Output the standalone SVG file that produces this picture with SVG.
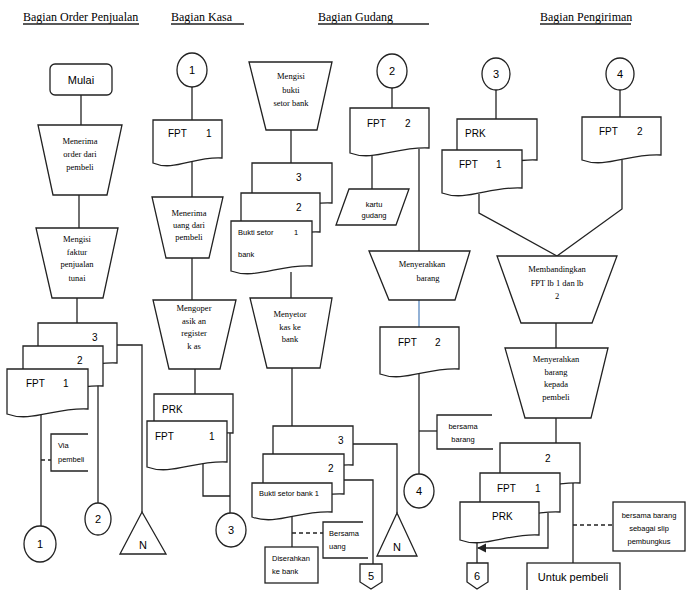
<svg xmlns="http://www.w3.org/2000/svg" width="686" height="590" viewBox="0 0 686 590">
<defs>
<style>
.n{fill:#fff;stroke:#222;stroke-width:1.3}
.c{fill:none;stroke:#222;stroke-width:1.3}
.dash{fill:none;stroke:#222;stroke-width:1.3;stroke-dasharray:4 3}
.h{font-family:"Liberation Serif",serif;font-size:12px;fill:#000}
.t{font-family:"Liberation Serif",serif;font-size:8.5px;fill:#000;text-anchor:middle}
.d{font-family:"Liberation Sans",sans-serif;font-size:10px;fill:#000}
.s{font-family:"Liberation Sans",sans-serif;font-size:7.5px;fill:#000}
.sc{font-family:"Liberation Sans",sans-serif;font-size:7.5px;fill:#000;text-anchor:middle}
.cn{font-family:"Liberation Sans",sans-serif;font-size:11px;fill:#000;text-anchor:middle}
</style>
<marker id="ar" viewBox="0 0 10 10" refX="9" refY="5" markerWidth="7" markerHeight="7" orient="auto"><path d="M0,0 L10,5 L0,10 Z" fill="#222"/></marker>
</defs>
<rect width="686" height="590" fill="#fff"/>

<g id="headers">
<text class="h" x="23" y="21">Bagian Order Penjualan</text>
<line class="c" x1="23" y1="24" x2="139" y2="24" stroke-width="0.9"/>
<text class="h" x="171" y="21">Bagian Kasa</text>
<line class="c" x1="171" y1="24" x2="244" y2="24" stroke-width="0.9"/>
<text class="h" x="318" y="21">Bagian Gudang</text>
<line class="c" x1="318" y1="24" x2="429" y2="24" stroke-width="0.9"/>
<text class="h" x="540" y="21">Bagian Pengiriman</text>
<line class="c" x1="540" y1="24" x2="631" y2="24" stroke-width="0.9"/>
</g>

<g id="connectors">
<!-- col1 -->
<line class="c" x1="81" y1="95" x2="81" y2="125"/>
<line class="c" x1="79" y1="195" x2="79" y2="228"/>
<line class="c" x1="77" y1="298" x2="77" y2="323"/>
<polyline class="c" points="117,345 142,345 142,512"/>
<line class="c" x1="98" y1="385" x2="98" y2="503"/>
<line class="c" x1="41" y1="414" x2="41" y2="526"/>
<line class="dash" x1="41" y1="460" x2="51" y2="460"/>
<polyline class="c" points="88,434 51,434 51,471 88,471"/>
<!-- col2 -->
<line class="c" x1="192" y1="87" x2="192" y2="120"/>
<line class="c" x1="192" y1="162" x2="192" y2="197"/>
<line class="c" x1="192" y1="258" x2="192" y2="300"/>
<line class="c" x1="195" y1="369" x2="195" y2="394"/>
<line class="c" x1="230" y1="433" x2="230" y2="513"/>
<polyline class="c" points="203,462 203,496 230,496"/>
<!-- col3 -->
<line class="c" x1="291" y1="130" x2="291" y2="163"/>
<line class="c" x1="291" y1="272" x2="291" y2="298"/>
<line class="c" x1="292" y1="368" x2="292" y2="426"/>
<polyline class="c" points="353,444 397,444 397,513"/>
<polyline class="c" points="344,480 373,480 373,564"/>
<line class="c" x1="292" y1="515" x2="292" y2="547"/>
<line class="dash" x1="292" y1="533" x2="323" y2="533"/>
<polyline class="c" points="363,522 323,522 323,558 368,558"/>
<!-- col4 -->
<line class="c" x1="392" y1="88" x2="392" y2="108"/>
<line class="c" x1="372" y1="155" x2="372" y2="189"/>
<line class="c" x1="419" y1="149" x2="419" y2="251"/>
<line x1="419" y1="300" x2="419" y2="327" stroke="#4a7ebb" stroke-width="1.2"/>
<line class="c" x1="419" y1="372" x2="419" y2="474"/>
<line class="c" x1="419" y1="431" x2="437" y2="431"/>
<polyline class="c" points="492,415 437,415 437,449 493,449"/>
<!-- col5 -->
<line class="c" x1="496" y1="90" x2="496" y2="119"/>
<line class="c" x1="620" y1="90" x2="620" y2="117"/>
<polyline class="c" points="479,194 479,213 557,256"/>
<polyline class="c" points="622,160 622,209 557,256"/>
<line class="c" x1="556" y1="323" x2="556" y2="348"/>
<line class="c" x1="556" y1="418" x2="556" y2="443"/>
<line class="c" x1="573" y1="483" x2="573" y2="563"/>
<line class="dash" x1="573" y1="525" x2="613" y2="525"/>
<polyline class="c" points="548,513 548,548 478,548" marker-end="url(#ar)"/>
<line class="c" x1="477" y1="540" x2="477" y2="563"/>
</g>

<!-- Column 1 -->
<g id="mulai">
<rect class="n" x="50" y="64" width="62" height="31" rx="5"/>
<text class="cn" x="81" y="84">Mulai</text>
</g>
<g id="menerima-order">
<polygon class="n" points="38,125 122,125 107,195 53,195"/>
<text class="t" x="80" y="144">Menerima</text>
<text class="t" x="80" y="157">order dari</text>
<text class="t" x="80" y="170">pembeli</text>
</g>
<g id="mengisi-faktur">
<polygon class="n" points="36,228 118,228 103,298 52,298"/>
<text class="t" x="77" y="242">Mengisi</text>
<text class="t" x="77" y="255">faktur</text>
<text class="t" x="77" y="267">penjualan</text>
<text class="t" x="77" y="281">tunai</text>
</g>
<g id="fpt-stack-1">
<path class="n" d="M38,323 h79 v40 c-31.6,-2 -55.3,14 -79,5 z"/>
<text class="d" x="92" y="341">3</text>
<path class="n" d="M23,346 h80 v40 c-32,-2 -56,14 -80,5 z"/>
<text class="d" x="77" y="364">2</text>
<path class="n" d="M7,369 h81 v40 c-32.4,-2 -56.7,14 -81,5 z"/>
<text class="d" x="26" y="387">FPT</text>
<text class="d" x="63" y="387">1</text>
</g>
<g id="via-pembeli">
<text class="s" x="58" y="448">Via</text>
<text class="s" x="58" y="462">pembeli</text>
</g>
<g id="c1-conn1">
<ellipse class="n" cx="40" cy="544" rx="16" ry="18"/>
<text class="cn" x="40" y="548">1</text>
</g>
<g id="c1-conn2">
<ellipse class="n" cx="98" cy="519" rx="13" ry="16"/>
<text class="cn" x="98" y="523">2</text>
</g>
<g id="c1-arsip">
<polygon class="n" points="142,512 166,554 120,554"/>
<text class="cn" x="143" y="549">N</text>
</g>

<!-- Column 2 -->
<g id="c2-conn1">
<ellipse class="n" cx="192" cy="70" rx="15" ry="17"/>
<text class="cn" x="192" y="74">1</text>
</g>
<g id="c2-fpt1">
<path class="n" d="M153,120 h69 v38 c-27.6,-2 -48.3,14 -69,5 z"/>
<text class="d" x="168" y="137">FPT</text>
<text class="d" x="206" y="137">1</text>
</g>
<g id="menerima-uang">
<polygon class="n" points="152,197 223,197 209,258 166,258"/>
<text class="t" x="189" y="216">Menerima</text>
<text class="t" x="189" y="228">uang dari</text>
<text class="t" x="189" y="240">pembeli</text>
</g>
<g id="mengoperasikan">
<polygon class="n" points="153,300 236,300 220,369 169,369"/>
<text class="t" x="194" y="311">Mengoper</text>
<text class="t" x="194" y="324">asik an</text>
<text class="t" x="194" y="336">register</text>
<text class="t" x="194" y="349">k as</text>
</g>
<g id="c2-prk-fpt">
<path class="n" d="M154,394 h79 v39 c-31.6,-2 -55.3,14 -79,5 z"/>
<text class="d" x="162" y="413">PRK</text>
<path class="n" d="M147,421 h80 v41 c-32,-2 -56,14 -80,5 z"/>
<text class="d" x="155" y="440">FPT</text>
<text class="d" x="209" y="440">1</text>
</g>
<g id="c2-conn3">
<ellipse class="n" cx="231" cy="530" rx="15" ry="17"/>
<text class="cn" x="231" y="534">3</text>
</g>

<!-- Column 3 -->
<g id="mengisi-bukti">
<polygon class="n" points="249,62 332,62 317,130 266,130"/>
<text class="t" x="291" y="79">Mengisi</text>
<text class="t" x="291" y="93">bukti</text>
<text class="t" x="291" y="106">setor bank</text>
</g>
<g id="bukti-stack-1">
<path class="n" d="M252,163 h80 v40 c-32,-2 -56,14 -80,5 z"/>
<text class="d" x="296" y="181">3</text>
<path class="n" d="M241,193 h79 v39 c-31.6,-2 -55.3,14 -79,5 z"/>
<text class="d" x="296" y="211">2</text>
<path class="n" d="M231,221 h81 v45 c-32.4,-2 -56.7,14 -81,5 z"/>
<text class="s" x="238" y="235">Bukti setor</text>
<text class="s" x="294" y="235">1</text>
<text class="s" x="238" y="257">bank</text>
</g>
<g id="menyetor">
<polygon class="n" points="250,298 332,298 320,368 267,368"/>
<text class="t" x="290" y="317">Menyetor</text>
<text class="t" x="290" y="330">kas ke</text>
<text class="t" x="290" y="342">bank</text>
</g>
<g id="bukti-stack-2">
<path class="n" d="M273,426 h80 v39 c-32,-2 -56,14 -80,5 z"/>
<text class="d" x="338" y="444">3</text>
<path class="n" d="M263,454 h81 v40 c-32.4,-2 -56.7,14 -81,5 z"/>
<text class="d" x="328" y="472">2</text>
<path class="n" d="M252,483 h80 v29 c-32,-2 -56,14 -80,5 z"/>
<text class="s" x="259" y="496">Bukti setor bank 1</text>
</g>
<g id="diserahkan">
<rect class="n" x="265" y="547" width="53" height="36"/>
<text class="s" x="272" y="561">Diserahkan</text>
<text class="s" x="272" y="574">ke bank</text>
</g>
<g id="bersama-uang">
<text class="s" x="329" y="536">Bersama</text>
<text class="s" x="329" y="549">uang</text>
</g>
<g id="c3-arsip">
<polygon class="n" points="397,513 417,556 377,556"/>
<text class="cn" x="397" y="551">N</text>
</g>
<g id="c3-off5">
<path class="n" d="M360,564 H382 V582 L371,589 L360,582 Z"/>
<text class="cn" x="371" y="580">5</text>
</g>

<!-- Column 4 -->
<g id="c4-conn2">
<ellipse class="n" cx="392" cy="71" rx="15" ry="17"/>
<text class="cn" x="392" y="75">2</text>
</g>
<g id="c4-fpt2">
<path class="n" d="M350,108 h79 v40 c-31.6,-2 -55.3,14 -79,5 z"/>
<text class="d" x="367" y="127">FPT</text>
<text class="d" x="405" y="127">2</text>
</g>
<g id="kartu-gudang">
<polygon class="n" points="349,189 409,189 396,225 336,225"/>
<text class="sc" x="374" y="207">kartu</text>
<text class="sc" x="374" y="218">gudang</text>
</g>
<g id="menyerahkan-barang">
<polygon class="n" points="369,251 470,251 455,300 389,300"/>
<text class="t" x="422" y="267">Menyerahkan</text>
<text class="t" x="428" y="281">barang</text>
</g>
<g id="c4-fpt2b">
<path class="n" d="M380,327 h79 v42 c-31.6,-2 -55.3,14 -79,5 z"/>
<text class="d" x="398" y="346">FPT</text>
<text class="d" x="435" y="346">2</text>
</g>
<g id="bersama-barang">
<text class="sc" x="463" y="429">bersama</text>
<text class="sc" x="463" y="442">barang</text>
</g>
<g id="c4-conn4">
<ellipse class="n" cx="419" cy="491" rx="15" ry="17"/>
<text class="cn" x="419" y="495">4</text>
</g>

<!-- Column 5 -->
<g id="c5-conn3">
<ellipse class="n" cx="496" cy="74" rx="14" ry="16"/>
<text class="cn" x="496" y="78">3</text>
</g>
<g id="c5-conn4">
<ellipse class="n" cx="620" cy="74" rx="14" ry="16"/>
<text class="cn" x="620" y="78">4</text>
</g>
<g id="c5-prk-fpt1">
<path class="n" d="M457,119 h80 v41 c-32,-2 -56,14 -80,5 z"/>
<text class="d" x="465" y="137">PRK</text>
<path class="n" d="M442,150 h80 v38 c-32,-2 -56,14 -80,5 z"/>
<text class="d" x="459" y="168">FPT</text>
<text class="d" x="496" y="168">1</text>
</g>
<g id="c5-fpt2">
<path class="n" d="M582,117 h79 v38 c-31.6,-2 -55.3,14 -79,5 z"/>
<text class="d" x="599" y="135">FPT</text>
<text class="d" x="637" y="135">2</text>
</g>
<g id="membandingkan">
<polygon class="n" points="497,256 617,256 592,323 521,323"/>
<text class="t" x="557" y="272">Membandingkan</text>
<text class="t" x="557" y="286">FPT lb 1 dan lb</text>
<text class="t" x="557" y="299">2</text>
</g>
<g id="menyerahkan-pembeli">
<polygon class="n" points="505,348 608,348 591,418 525,418"/>
<text class="t" x="556" y="362">Menyerahkan</text>
<text class="t" x="556" y="375">barang</text>
<text class="t" x="556" y="387">kepada</text>
<text class="t" x="556" y="400">pembeli</text>
</g>
<g id="c5-stack">
<path class="n" d="M500,443 h80 v40 c-32,-2 -56,14 -80,5 z"/>
<text class="d" x="545" y="462">2</text>
<path class="n" d="M480,473 h80 v39 c-32,-2 -56,14 -80,5 z"/>
<text class="d" x="497" y="492">FPT</text>
<text class="d" x="535" y="492">1</text>
<path class="n" d="M460,502 h79 v33 c-31.6,-2 -55.3,14 -79,5 z"/>
<text class="d" x="492" y="520">PRK</text>
</g>
<g id="slip-pembungkus">
<rect class="n" x="613" y="502" width="72" height="49"/>
<text class="sc" x="649" y="518">bersama barang</text>
<text class="sc" x="649" y="531">sebagai slip</text>
<text class="sc" x="649" y="544">pembungkus</text>
</g>
<g id="untuk-pembeli">
<rect class="n" x="527" y="563" width="93" height="30"/>
<text class="cn" x="573" y="581" font-size="11.5">Untuk pembeli</text>
</g>
<g id="c5-off6">
<path class="n" d="M467,563 H488 V582 L477,589 L467,582 Z"/>
<text class="cn" x="477" y="580">6</text>
</g>
</svg>
